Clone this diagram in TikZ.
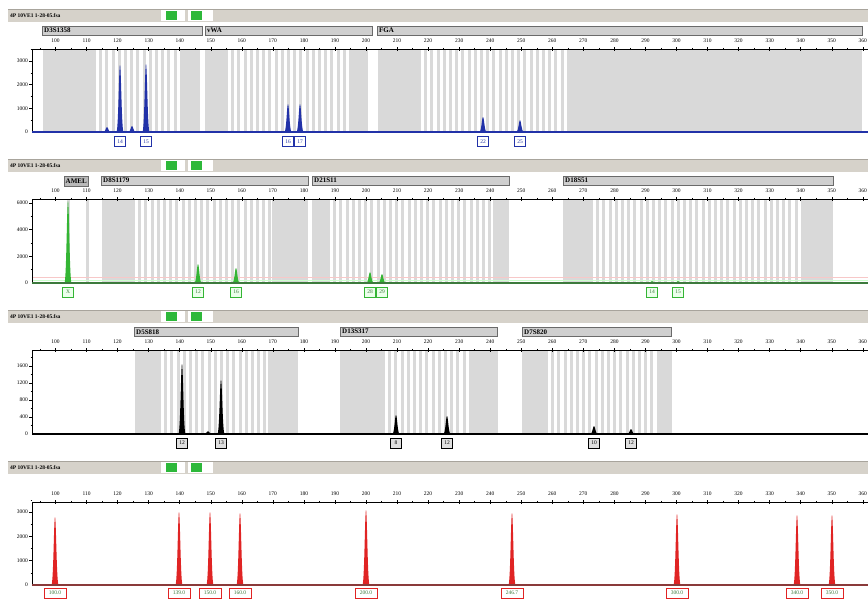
\documentclass[tikz,border=0pt]{standalone}
\usepackage{fontspec}
\setmainfont{Liberation Serif}
\definecolor{titlebg}{HTML}{D6D2CA}
\definecolor{titleline}{HTML}{A8A49C}
\definecolor{lgreen}{HTML}{2DB83A}
\definecolor{bingray}{HTML}{D9D9D9}
\definecolor{locfill}{HTML}{CFCFCF}
\definecolor{locdraw}{HTML}{6A6A6A}
\definecolor{pblue}{HTML}{2232A8}
\definecolor{pgreen}{HTML}{34B534}
\definecolor{pgreenline}{HTML}{3C7A3C}
\definecolor{pred}{HTML}{E02424}
\definecolor{predline}{HTML}{8A3A3A}
\tikzset{
  ticklab/.style={font=\fontsize{5.5}{5.5}\selectfont, inner sep=0pt},
  ylab/.style={font=\fontsize{5.5}{5.5}\selectfont, anchor=east, inner sep=0pt},
  titletext/.style={font=\bfseries\fontsize{5.5}{5.5}\selectfont, anchor=west, inner sep=0pt},
  locusbar/.style={fill=locfill, draw=locdraw, line width=0.7pt},
  locname/.style={font=\bfseries\fontsize{7}{7}\selectfont, anchor=west, inner sep=0pt},
  allele/.style={draw, fill=white, line width=1pt, minimum width=10.5pt, minimum height=10pt, inner sep=0pt, font=\fontsize{5.5}{5.5}\selectfont},
  ablue/.style={allele, draw=pblue, text=pblue},
  agreen/.style={allele, draw=pgreen, text=pgreenline, fill=green!8},
  ablack/.style={allele, draw=black, fill=gray!25},
  ared/.style={allele, draw=pred, text=pgreenline, minimum width=22pt},
}
\newcommand\panelhead[2]{%
  \fill[titlebg] (8,#1) rectangle (868,#1+13);
  \draw[titleline, line width=0.6pt] (8,#1) -- (868,#1);
  \node[titletext] (#2) at (10,#1+6.5) {4P 10VE1 1-28-05.fsa};
  \fill[white] (161,#1+1) rectangle (185,#1+12);
  \fill[white] (188,#1+1) rectangle (213,#1+12);
  \fill[lgreen] (166,#1+2) rectangle (177,#1+11);
  \fill[lgreen] (191,#1+2) rectangle (202,#1+11);
}
\newcommand\locusbar[5]{%
  \draw[locusbar] (#1,#3) rectangle (#2,#3+9);
  \node[locname] (#5) at (#1+2,#3+4.7) {#4};
}
% #1 x1 #2 x2 #3 ytop #4 ybot
\newcommand\binstripes[4]{%
  \fill[white] (#1,#3) rectangle (#2,#4);
  \pgfmathsetmacro\binsecond{#1+6.2}%
  \foreach \s in {#1,\binsecond,...,#2} {\fill[bingray] (\s,#3) rectangle (\s+3,#4);}
}
\newcommand\xaxisline[2]{%
  \draw[line width=0.6pt] (32,#1) -- (868,#1);
  \draw[line width=0.6pt] (32,#1) -- (32,#2);
  \foreach \v in {100,110,...,360} {%
    \pgfmathsetmacro\xx{55.5+3.105*(\v-100)}%
    \node[ticklab] at (\xx,#1-8) {\v};
    \draw[line width=0.5pt] (\xx,#1-2) -- (\xx,#1+2);
  }
  \foreach \v in {95,105,...,365} {%
    \pgfmathsetmacro\xx{55.5+3.105*(\v-100)}%
    \draw[line width=0.4pt] (\xx,#1-1.2) -- (\xx,#1+1.2);
  }
}
% #1 x #2 top #3 base #4 color
\newcommand\peak[4]{%
  \fill[#4] (#1-3.6,#3) .. controls (#1-1.6,#3) and (#1-1.1,#2) .. (#1,#2)
    .. controls (#1+1.1,#2) and (#1+1.6,#3) .. (#1+3.6,#3) -- cycle;
}
\begin{document}
\begin{tikzpicture}[x=1pt,y=-1pt]
\useasboundingbox (0,0) rectangle (868,598);
\fill[white] (0,0) rectangle (868,598);

%================ Panel 1 (blue)
\panelhead{9}{title1}
\fill[bingray] (43,50) rectangle (200,131);
\binstripes{93}{182}{50}{131}
\fill[bingray] (205,50) rectangle (368,131);
\binstripes{225}{350}{50}{131}
\fill[bingray] (378,50) rectangle (862,131);
\binstripes{418}{570}{50}{131}
\locusbar{42}{202}{26}{D3S1358}{L1a}
\locusbar{205}{372}{26}{vWA}{L1b}
\locusbar{377}{862}{26}{FGA}{L1c}
\xaxisline{49}{132}
\foreach \lab [count=\i] in {1000,2000,3000} {\node[ylab] at (28,132-23.7*\i) {\lab};
  \draw[line width=0.5pt] (29,132-23.7*\i) -- (32,132-23.7*\i);}
\foreach \i in {1,3,5,7} {\draw[line width=0.4pt] (30.5,132-11.85*\i) -- (32,132-11.85*\i);}
\node[ylab] at (28,132) {0};
\peak{120}{65}{132}{pblue}
\peak{146}{64}{132}{pblue}
\peak{107}{127}{132}{pblue}
\peak{132}{126}{132}{pblue}
\peak{288}{104}{132}{pblue}
\peak{300}{104}{132}{pblue}
\peak{483}{117}{132}{pblue}
\peak{520}{120}{132}{pblue}
\draw[pblue, line width=1.3pt] (32,132) -- (868,132);
\node[ablue] (a11) at (120,141.5) {14};
\node[ablue] (a12) at (146,141.5) {15};
\node[ablue] (a13) at (288,141.5) {16};
\node[ablue] (a14) at (300,141.5) {17};
\node[ablue] (a15) at (483,141.5) {22};
\node[ablue] (a16) at (520,141.5) {25};

%================ Panel 2 (green)
\panelhead{159}{title2}
\fill[bingray] (66.5,200) rectangle (69.5,282);
\fill[bingray] (85.5,200) rectangle (88.5,282);
\fill[bingray] (102,200) rectangle (308,282);
\binstripes{132}{272}{200}{282}
\fill[bingray] (312,200) rectangle (509,282);
\binstripes{327}{493}{200}{282}
\fill[bingray] (563,200) rectangle (833,282);
\binstripes{590}{803}{200}{282}
\draw[pred!25, line width=0.4pt] (32,277) -- (868,277);
\draw[green!20, line width=0.8pt] (32,280) -- (868,280);
\draw[locusbar, fill=gray!55] (64,176) rectangle (88,186);
\node[locname] (L2a) at (65.5,181) {AMEL};
\locusbar{101}{308}{176}{D8S1179}{L2b}
\locusbar{312}{509}{176}{D21S11}{L2c}
\locusbar{563}{833}{176}{D18S51}{L2d}
\xaxisline{199}{283}
\foreach \lab [count=\i] in {2000,4000,6000} {\node[ylab] at (28,283-26.7*\i) {\lab};
  \draw[line width=0.5pt] (29,283-26.7*\i) -- (32,283-26.7*\i);}
\foreach \i in {1,3,5} {\draw[line width=0.4pt] (30.5,283-13.35*\i) -- (32,283-13.35*\i);}
\node[ylab] at (28,283) {0};
\peak{68}{201}{283}{pgreen}
\peak{198}{264}{283}{pgreen}
\peak{236}{268}{283}{pgreen}
\peak{370}{272}{283}{pgreen}
\peak{382}{274}{283}{pgreen}
\peak{652}{281}{283}{pgreen}
\peak{678}{281}{283}{pgreen}
\draw[pgreenline, line width=1.2pt] (32,283) -- (868,283);
\node[agreen] (a21) at (68,292) {X};
\node[agreen] (a22) at (198,292) {12};
\node[agreen] (a23) at (236,292) {16};
\node[agreen] (a24) at (370,292) {28};
\node[agreen] (a25) at (382,292) {29};
\node[agreen] (a26) at (652,292) {14};
\node[agreen] (a27) at (678,292) {15};

%================ Panel 3 (black)
\panelhead{310}{title3}
\fill[bingray] (135,351) rectangle (298,433);
\binstripes{158}{268}{351}{433}
\fill[bingray] (340,351) rectangle (498,433);
\binstripes{382}{472}{351}{433}
\fill[bingray] (522,351) rectangle (672,433);
\binstripes{545}{657}{351}{433}
\locusbar{134}{298}{327}{D5S818}{L3a}
\locusbar{340}{497}{327}{D13S317}{L3b}
\locusbar{522}{671}{327}{D7S820}{L3c}
\xaxisline{350}{434}
\foreach \lab [count=\i] in {400,800,1200,1600} {\node[ylab] at (28,434-17*\i) {\lab};
  \draw[line width=0.5pt] (29,434-17*\i) -- (32,434-17*\i);}
\foreach \i in {1,3,5,7,9} {\draw[line width=0.4pt] (30.5,434-8.5*\i) -- (32,434-8.5*\i);}
\node[ylab] at (28,434) {0};
\peak{182}{364}{434}{black}
\peak{221}{380}{434}{black}
\peak{208}{431}{434}{black}
\peak{396}{415}{434}{black}
\peak{447}{416}{434}{black}
\peak{594}{426}{434}{black}
\peak{631}{429}{434}{black}
\draw[black, line width=1.1pt] (32,434) -- (868,434);
\node[ablack] (a31) at (182,443) {12};
\node[ablack] (a32) at (221,443) {13};
\node[ablack] (a33) at (396,443) {8};
\node[ablack] (a34) at (447,443) {12};
\node[ablack] (a35) at (594,443) {10};
\node[ablack] (a36) at (631,443) {12};

%================ Panel 4 (red)
\panelhead{461}{title4}
\xaxisline{502}{585}
\foreach \lab [count=\i] in {1000,2000,3000} {\node[ylab] at (28,585-24.3*\i) {\lab};
  \draw[line width=0.5pt] (29,585-24.3*\i) -- (32,585-24.3*\i);}
\foreach \i in {1,3,5,7} {\draw[line width=0.4pt] (30.5,585-12.15*\i) -- (32,585-12.15*\i);}
\node[ylab] at (28,585) {0};
\peak{55}{517}{585}{pred}
\peak{179}{512}{585}{pred}
\peak{210}{512}{585}{pred}
\peak{240}{513}{585}{pred}
\peak{366}{510}{585}{pred}
\peak{512}{513}{585}{pred}
\peak{677}{514}{585}{pred}
\peak{797}{515}{585}{pred}
\peak{832}{515}{585}{pred}
\draw[predline, line width=1.1pt] (32,585) -- (868,585);
\node[ared] (a41) at (55,593) {100.0};
\node[ared] (a42) at (179,593) {139.0};
\node[ared] (a43) at (210,593) {150.0};
\node[ared] (a44) at (240,593) {160.0};
\node[ared] (a45) at (366,593) {200.0};
\node[ared] (a46) at (512,593) {246.7};
\node[ared] (a47) at (677,593) {300.0};
\node[ared] (a48) at (797,593) {340.0};
\node[ared] (a49) at (832,593) {350.0};
\end{tikzpicture}
\end{document}
